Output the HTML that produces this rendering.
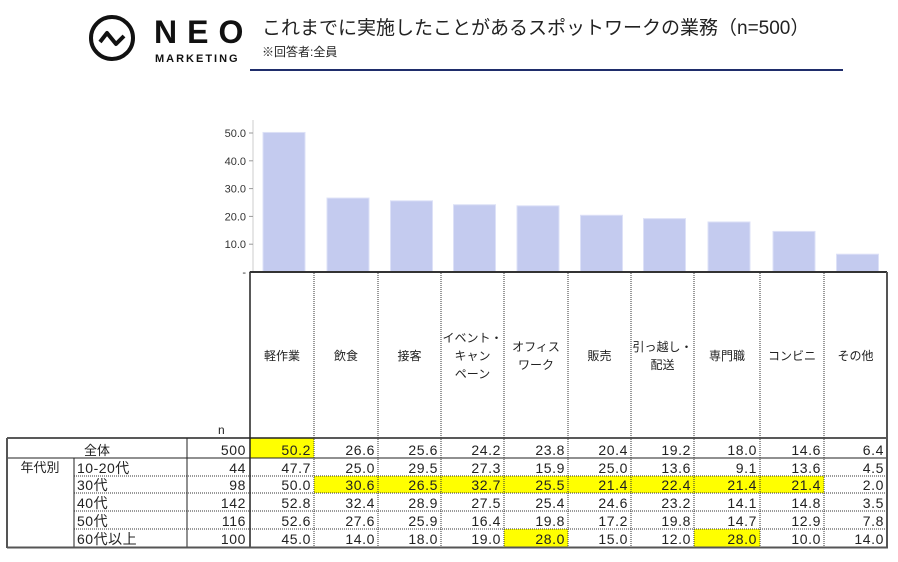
<!DOCTYPE html>
<html><head><meta charset="utf-8">
<style>
body{margin:0;background:#fff;width:898px;height:557px;overflow:hidden;font-family:"Liberation Sans","Noto Sans CJK JP",sans-serif;}
svg text{font-family:"Liberation Sans","Noto Sans CJK JP",sans-serif;}
</style></head><body>
<svg id="s" width="898" height="557" xmlns="http://www.w3.org/2000/svg">
<circle cx="112" cy="38" r="21" fill="none" stroke="#111" stroke-width="4"/>
<polyline points="100,42 107,33 116,44 124,36" fill="none" stroke="#111" stroke-width="4" stroke-linejoin="round"/>
<text x="154" y="43" font-size="32" font-weight="bold" fill="#111" letter-spacing="10">NEO</text>
<text x="155" y="62" font-size="11" font-weight="bold" fill="#111" letter-spacing="2">MARKETING</text>
<text x="262" y="34" font-size="19" fill="#222">これまでに実施したことがあるスポットワークの業務（n=500）</text>
<text x="262" y="56" font-size="12" fill="#222">※回答者:全員</text>
<line x1="250" y1="70" x2="843" y2="70" stroke="#1f2d6b" stroke-width="2"/>
<g id="g"></g>
</svg>
<script>
const g=document.getElementById('g');let h='';
const B=[250,314,378,441,504,568,631,694,760,824,887];
const vals=[50.2,26.6,25.6,24.2,23.8,20.4,19.2,18.0,14.6,6.4];
h+=`<line x1="253" y1="120" x2="253" y2="272" stroke="#ccc" stroke-width="1"/>`;
[0,10,20,30,40,50].forEach(v=>{const y=272-v*2.78;
h+=`<line x1="249" y1="${y}" x2="253" y2="${y}" stroke="#999"/>`;
h+=`<text x="246" y="${y+4}" font-size="11" text-anchor="end" fill="#333">${v?v.toFixed(1):'-'}</text>`;});
vals.forEach((v,i)=>{const c=(B[i]+B[i+1])/2+2;const hh=v*2.78;
h+=`<rect x="${c-21}" y="${272-hh}" width="42" height="${hh}" fill="#c4cbef" stroke="#dde1f7" stroke-width="1"/>`;});
const labs=[["軽作業"],["飲食"],["接客"],["イベント・","キャン","ペーン"],["オフィス","ワーク"],["販売"],["引っ越し・","配送"],["専門職"],["コンビニ"],["その他"]];
labs.forEach((l,i)=>{const c=(B[i]+B[i+1])/2;const y0=360-(l.length-1)*9;
l.forEach((t,j)=>h+=`<text x="${c}" y="${y0+j*18}" font-size="12" text-anchor="middle" fill="#222">${t}</text>`);});
h+=`<text x="218" y="434" font-size="12" fill="#222">n</text>`;
const R=[438,458,476,493,511,529,547];
const rows=[["全体",500,[50.2,26.6,25.6,24.2,23.8,20.4,19.2,18.0,14.6,6.4],[0]],
["10-20代",44,[47.7,25.0,29.5,27.3,15.9,25.0,13.6,9.1,13.6,4.5],[]],
["30代",98,[50.0,30.6,26.5,32.7,25.5,21.4,22.4,21.4,21.4,2.0],[1,2,3,4,5,6,7,8]],
["40代",142,[52.8,32.4,28.9,27.5,25.4,24.6,23.2,14.1,14.8,3.5],[]],
["50代",116,[52.6,27.6,25.9,16.4,19.8,17.2,19.8,14.7,12.9,7.8],[]],
["60代以上",100,[45.0,14.0,18.0,19.0,28.0,15.0,12.0,28.0,10.0,14.0],[4,7]]];
rows.forEach((r,k)=>{const y1=R[k],y2=R[k+1];
r[3].forEach(i=>h+=`<rect x="${B[i]}" y="${y1}" width="${B[i+1]-B[i]}" height="${y2-y1}" fill="#ffff00"/>`);
const ty=y2-3;
if(k==0)h+=`<text x="97" y="${ty}" font-size="13" text-anchor="middle" fill="#222">全体</text>`;
else h+=`<text x="77" y="${ty}" font-size="14" fill="#222" letter-spacing="0.5">${r[0]}</text>`;
h+=`<text x="246" y="${ty}" font-size="14" text-anchor="end" fill="#222" letter-spacing="0.6">${r[1]}</text>`;
r[2].forEach((v,i)=>h+=`<text x="${B[i+1]-3}" y="${ty}" font-size="14" text-anchor="end" fill="#222" letter-spacing="0.6">${v.toFixed(1)}</text>`);
});
h+=`<text x="40" y="472" font-size="13" text-anchor="middle" fill="#222">年代別</text>`;
for(let k=2;k<6;k++)h+=`<line x1="74" y1="${R[k]}" x2="887" y2="${R[k]}" stroke="#333" stroke-dasharray="1,1"/>`;
h+=`<line x1="7" y1="458" x2="887" y2="458" stroke="#222"/>`;
h+=`<line x1="7" y1="438" x2="887" y2="438" stroke="#222" stroke-width="1.5"/>`;
for(let i=1;i<10;i++)h+=`<line x1="${B[i]}" y1="273" x2="${B[i]}" y2="547" stroke="#333" stroke-dasharray="1,1"/>`;
h+=`<line x1="74" y1="458" x2="74" y2="547" stroke="#222"/>`;
h+=`<line x1="187" y1="438" x2="187" y2="547" stroke="#222"/>`;
h+=`<line x1="250" y1="272" x2="250" y2="547" stroke="#222" stroke-width="1.5"/>`;
h+=`<line x1="250" y1="272" x2="887" y2="272" stroke="#333" stroke-width="2"/>`;
h+=`<line x1="887" y1="272" x2="887" y2="548" stroke="#555" stroke-width="2"/>`;
h+=`<line x1="7" y1="438" x2="7" y2="548" stroke="#555" stroke-width="2"/>`;
h+=`<line x1="7" y1="547.5" x2="888" y2="547.5" stroke="#555" stroke-width="2"/>`;
g.innerHTML=h;
</script>
</body></html>
